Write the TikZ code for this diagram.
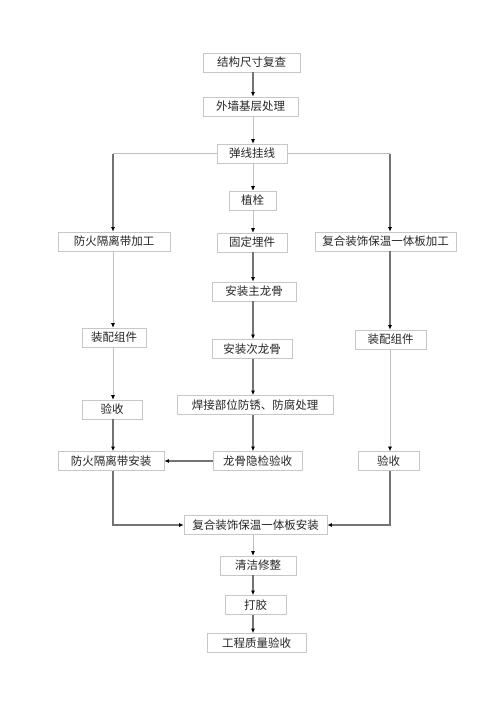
\documentclass[tikz,border=0pt]{standalone}
\usepackage{fontspec}
\setmainfont{Noto Sans CJK SC}
\usetikzlibrary{arrows.meta}

\begin{document}
\begin{tikzpicture}[x=1pt,y=-1pt,
   box/.style={draw=black!22,line width=0.7pt,minimum height=19pt,inner sep=0pt,
               font=\fontsize{11.5}{12}\selectfont,text=black!85},
   thk/.style={draw=black!55,line width=1.3pt,-{Latex[length=4.5pt,width=4pt,color=black]}},
   thn/.style={draw=black!25,line width=0.6pt,-{Latex[length=4.5pt,width=4pt,color=black]}},
   lin/.style={draw=black!25,line width=0.6pt}]
   \useasboundingbox (0,0) rectangle (500,707);
   % middle column
   \node[box,minimum width=97pt]  (fuCha)    at (251.5, 62.5) {结构尺寸复查};
   \node[box,minimum width=95pt]  (jiCeng)   at (250.5,106.5) {外墙基层处理};
   \node[box,minimum width=70pt]  (tanXian)  at (252.0,153.5) {弹线挂线};
   \node[box,minimum width=47pt]  (zhiShuan) at (252.5,200.5) {植栓};
   \node[box,minimum width=70pt]  (maiJian)  at (252.0,242.5) {固定埋件};
   \node[box,minimum width=84pt]  (zhuLG)    at (254.0,291.5) {安装主龙骨};
   \node[box,minimum width=80pt]  (ciLG)     at (252.0,349.0) {安装次龙骨};
   \node[box,minimum width=156pt] (fangXiu)  at (255.0,405.0) {焊接部位防锈、防腐处理};
   \node[box,minimum width=89pt]  (yinJian)  at (257.5,461.0) {龙骨隐检验收};
   % left column
   \node[box,minimum width=112pt] (geJG)     at (114.0,241.5) {防火隔离带加工};
   \node[box,minimum width=64pt]  (zuJianL)  at (114.0,337.5) {装配组件};
   \node[box,minimum width=60pt]  (yanL)     at (112.0,409.5) {验收};
   \node[box,minimum width=106pt] (geAZ)     at (111.0,461.0) {防火隔离带安装};
   % right column
   \node[box,minimum width=141pt] (banJG)    at (385.5,241.5) {复合装饰保温一体板加工};
   \node[box,minimum width=71pt]  (zuJianR)  at (390.5,339.5) {装配组件};
   \node[box,minimum width=61pt]  (yanR)     at (388.5,461.0) {验收};
   % bottom
   \node[box,minimum width=143pt] (banAZ)    at (255.5,525.0) {复合装饰保温一体板安装};
   \node[box,minimum width=76pt]  (qingJie)  at (258.0,565.5) {清洁修整};
   \node[box,minimum width=61pt]  (daJiao)   at (255.5,605.0) {打胶};
   \node[box,minimum width=99pt]  (zhiLiang) at (256.5,643.0) {工程质量验收};

   \coordinate (midX) at (253,0);
   \coordinate (lftX) at (113,0);
   \coordinate (rgtX) at (390,0);
   \coordinate (brL) at (tanXian.west -| lftX);
   \coordinate (brR) at (tanXian.east -| rgtX);

   \draw[thk] (fuCha.south -| midX) -- (jiCeng.north -| midX);
   \draw[thn] (jiCeng.south -| midX) -- (tanXian.north -| midX);
   \draw[thn] (tanXian.south -| midX) -- (zhiShuan.north -| midX);
   \draw[thn] (zhiShuan.south -| midX) -- (maiJian.north -| midX);
   \draw[thk] (maiJian.south -| midX) -- (zhuLG.north -| midX);
   \draw[thk] (zhuLG.south -| midX) -- (ciLG.north -| midX);
   \draw[thk] (ciLG.south -| midX) -- (fangXiu.north -| midX);
   \draw[thk] (fangXiu.south -| midX) -- (yinJian.north -| midX);
   \draw[thk] (yinJian) -- (geAZ);

   \draw[lin] (tanXian.west) -- (brL);
   \draw[thk] (brL) -- (geJG.north -| lftX);
   \draw[lin] (tanXian.east) -- (brR);
   \draw[thk] (brR) -- (banJG.north -| rgtX);

   \draw[thn] (geJG.south -| lftX) -- (zuJianL.north -| lftX);
   \draw[thn] (zuJianL.south -| lftX) -- (yanL.north -| lftX);
   \draw[thk] (yanL.south -| lftX) -- (geAZ.north -| lftX);

   \draw[thk] (banJG.south -| rgtX) -- (zuJianR.north -| rgtX);
   \draw[thn] (zuJianR.south -| rgtX) -- (yanR.north -| rgtX);

   \draw[thk] (geAZ.south -| lftX) |- (banAZ);
   \draw[thk] (yanR.south -| rgtX) |- (banAZ);

   \draw[thn] (banAZ.south -| midX) -- (qingJie.north -| midX);
   \draw[thk] (qingJie.south -| midX) -- (daJiao.north -| midX);
   \draw[thk] (daJiao.south -| midX) -- (zhiLiang.north -| midX);
\end{tikzpicture}
\end{document}
